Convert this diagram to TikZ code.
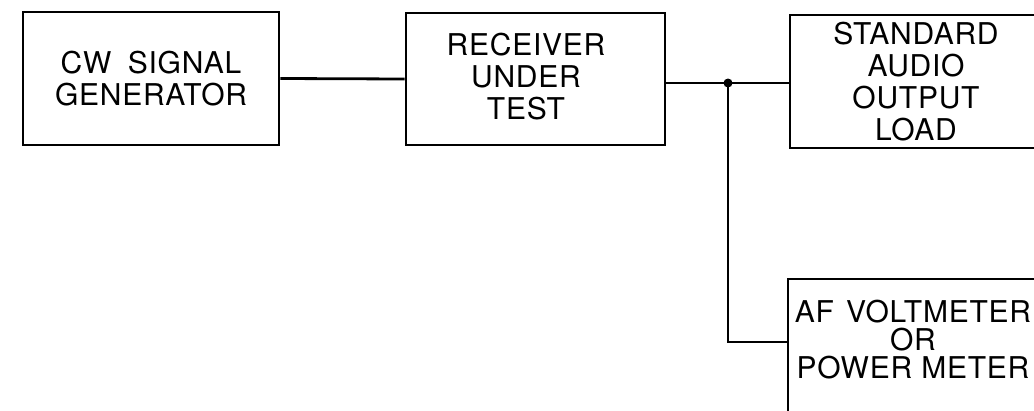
\documentclass[tikz,border=0pt]{standalone}
\usepackage{fontspec}
\setmainfont{TeX Gyre Heros}[LetterSpace=2.5]
\newcommand{\wsp}{\hspace{0.55em}}
\begin{document}
\begin{tikzpicture}[x=1pt,y=-1pt,
  blk/.style={draw=black, line width=2.8pt, rectangle, inner sep=0pt, align=center,
    font=\fontsize{30}{32}\selectfont},
  wire/.style={line width=2.8pt},
  lbl/.style={inner sep=0pt, align=center, font=\fontsize{30}{32}\selectfont}]
\useasboundingbox (0,0) rectangle (1034,410);
\clip (0,0) rectangle (1034,410);
\node[blk, minimum width=256pt, minimum height=133pt] (gen) at (151,78.5) {CW\wsp SIGNAL\\GENERATOR};
\node[blk, minimum width=259pt, minimum height=132pt] (rx) at (535.5,79) {};
\node[lbl] (rxtext) at (526,77) {RECEIVER\\UNDER\\TEST};
\node[blk, minimum width=252pt, minimum height=133pt] (load) at (916,81.5) {STANDARD\\AUDIO\\OUTPUT\\LOAD};
\node[blk, minimum width=252pt, minimum height=142pt] (afm) at (914,350) {};
\node[lbl, font=\fontsize{30}{28}\selectfont] (aftext) at (913,340) {AF\hspace{0.4em}VOLTMETER\\OR\\POWER METER};
\coordinate (j) at (728,83);
\draw[wire] (gen.east) -- (rx.west);
\draw[wire] (rx.east |- j) -- (j) -- (load.west |- j);
\draw[wire] (j) |- (afm.west |- 0,342);
\fill (j) circle (4.5pt);
\end{tikzpicture}
\end{document}
